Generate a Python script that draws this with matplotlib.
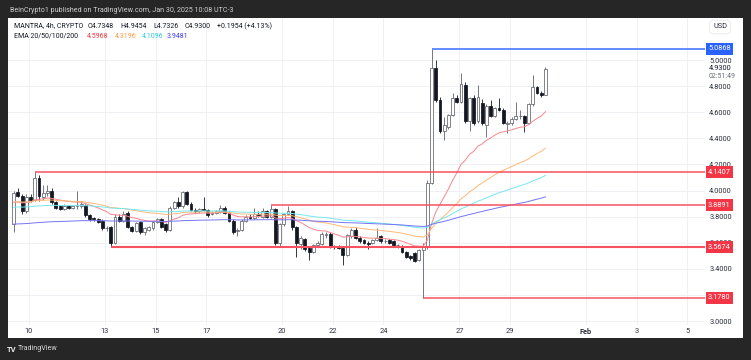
import matplotlib
matplotlib.use("Agg")
import matplotlib.pyplot as plt
import matplotlib.transforms as mtransforms
from matplotlib.patches import Rectangle
import numpy as np

plt.rcParams['font.family'] = ['Roboto', 'DejaVu Sans']

# ---------------- data (4h candles, MANTRA) ----------------
opens = [3.74, 3.99, 3.96, 3.84, 3.95, 3.93, 4.10, 3.95, 3.98, 4.00,
         3.91, 3.88, 3.86, 3.88, 3.87, 3.88, 3.88, 3.89, 3.81, 3.79,
         3.78, 3.77, 3.71, 3.72, 3.60, 3.80, 3.77, 3.83, 3.72, 3.69,
         3.76, 3.68, 3.70, 3.71, 3.76, 3.78, 3.74, 3.70, 3.87, 3.91,
         3.88, 3.99, 3.90, 3.85, 3.84, 3.86, 3.85, 3.82, 3.83, 3.84,
         3.87, 3.83, 3.77, 3.69, 3.70, 3.77, 3.80, 3.79, 3.82, 3.80,
         3.84, 3.80, 3.86, 3.60, 3.74, 3.82, 3.84, 3.72, 3.59, 3.63,
         3.56, 3.53, 3.58, 3.59, 3.66, 3.67, 3.57, 3.565, 3.56, 3.51,
         3.65, 3.70, 3.64, 3.62, 3.60, 3.60, 3.62, 3.65, 3.61, 3.62,
         3.61, 3.58, 3.575, 3.53, 3.50, 3.52, 3.47, 3.545, 3.567, 4.06,
         4.94, 4.69, 4.46, 4.49, 4.58, 4.71, 4.68, 4.81, 4.53, 4.71,
         4.53, 4.67, 4.50, 4.65, 4.57, 4.63, 4.62, 4.51, 4.52, 4.55,
         4.57, 4.57, 4.52, 4.66, 4.79, 4.75, 4.7348]
highs = [4.00, 4.02, 3.97, 3.97, 3.97, 4.1407, 4.12, 4.04, 4.04, 4.02,
         3.92, 3.89, 3.90, 3.89, 3.89, 4.00, 3.92, 3.90, 3.82, 3.80,
         3.79, 3.78, 3.73, 3.73, 3.82, 3.82, 3.84, 3.84, 3.73, 3.76,
         3.77, 3.72, 3.73, 3.77, 3.79, 3.79, 3.75, 3.88, 3.92, 3.95,
         4.00, 4.00, 3.91, 3.87, 3.87, 3.95, 3.86, 3.84, 3.85, 3.89,
         3.88, 3.84, 3.78, 3.71, 3.78, 3.81, 3.82, 3.87, 3.84, 3.87,
         3.85, 3.8891, 3.87, 3.75, 3.83, 3.88, 3.85, 3.73, 3.65, 3.64,
         3.57, 3.59, 3.61, 3.685, 3.68, 3.68, 3.58, 3.58, 3.57, 3.67,
         3.71, 3.72, 3.65, 3.63, 3.61, 3.63, 3.71, 3.66, 3.63, 3.63,
         3.62, 3.59, 3.58, 3.54, 3.51, 3.53, 3.55, 3.60, 4.08, 5.0868,
         5.00, 4.72, 4.56, 4.59, 4.75, 4.73, 4.90, 4.83, 4.72, 4.73,
         4.81, 4.70, 4.66, 4.69, 4.64, 4.71, 4.63, 4.53, 4.56, 4.68,
         4.62, 4.58, 4.67, 4.885, 4.80, 4.76, 4.9454]
lows = [3.68, 3.95, 3.82, 3.83, 3.91, 3.92, 3.92, 3.93, 3.96, 3.90,
        3.86, 3.85, 3.85, 3.86, 3.86, 3.86, 3.87, 3.80, 3.77, 3.77,
        3.75, 3.70, 3.69, 3.5674, 3.59, 3.76, 3.76, 3.71, 3.68, 3.68,
        3.67, 3.66, 3.69, 3.70, 3.75, 3.71, 3.68, 3.69, 3.86, 3.87,
        3.87, 3.89, 3.84, 3.83, 3.83, 3.84, 3.80, 3.81, 3.82, 3.83,
        3.82, 3.76, 3.67, 3.65, 3.69, 3.76, 3.78, 3.78, 3.80, 3.79,
        3.79, 3.79, 3.58, 3.57, 3.73, 3.81, 3.70, 3.49, 3.55, 3.54,
        3.47, 3.52, 3.57, 3.58, 3.64, 3.56, 3.55, 3.55, 3.43, 3.50,
        3.64, 3.63, 3.60, 3.59, 3.55, 3.59, 3.61, 3.60, 3.60, 3.59,
        3.57, 3.56, 3.52, 3.48, 3.47, 3.45, 3.46, 3.178, 3.55, 4.05,
        4.68, 4.44, 4.39, 4.47, 4.57, 4.67, 4.67, 4.52, 4.46, 4.50,
        4.52, 4.50, 4.41, 4.56, 4.56, 4.61, 4.51, 4.44, 4.50, 4.54,
        4.55, 4.45, 4.51, 4.65, 4.74, 4.72, 4.7326]
closes = [3.98, 3.96, 3.84, 3.95, 3.93, 4.10, 3.96, 3.98, 4.00, 3.91,
          3.87, 3.86, 3.88, 3.87, 3.88, 3.89, 3.90, 3.81, 3.78, 3.78,
          3.76, 3.71, 3.715, 3.60, 3.80, 3.77, 3.82, 3.72, 3.69, 3.75,
          3.68, 3.71, 3.72, 3.76, 3.78, 3.72, 3.70, 3.87, 3.91, 3.88,
          3.99, 3.90, 3.85, 3.84, 3.86, 3.85, 3.81, 3.83, 3.84, 3.87,
          3.83, 3.77, 3.68, 3.70, 3.77, 3.80, 3.79, 3.82, 3.81, 3.84,
          3.80, 3.86, 3.60, 3.74, 3.82, 3.84, 3.72, 3.60, 3.64, 3.55,
          3.53, 3.58, 3.60, 3.67, 3.67, 3.57, 3.565, 3.56, 3.51, 3.66,
          3.70, 3.64, 3.61, 3.60, 3.59, 3.625, 3.64, 3.61, 3.615, 3.60,
          3.58, 3.585, 3.53, 3.49, 3.48, 3.46, 3.545, 3.567, 4.06, 4.94,
          4.69, 4.46, 4.50, 4.58, 4.71, 4.68, 4.82, 4.53, 4.71, 4.515,
          4.72, 4.515, 4.65, 4.57, 4.63, 4.62, 4.52, 4.52, 4.55, 4.57,
          4.575, 4.52, 4.66, 4.79, 4.75, 4.735, 4.93]

# EMA 20/50/100/200 (seed = value at the left edge of the chart)
ema_periods = [20, 50, 100, 200]
ema_seeds = [3.90, 3.91, 3.87, 3.74]
ema_line_colors = ['#f7868c', '#ffb877', '#74e8f0', '#7474f5']
ema_text_colors = ['#f23645', '#ff9a3c', '#2fd0e0', '#3b3bf0']
ema_last = ['4.5968', '4.3196', '4.1096', '3.9481']

# horizontal levels: price, starting candle, colour
level_prices = [5.0868, 4.1407, 3.8891, 3.5674, 3.1780]
level_start = [99, 5, 61, 23, 97]
level_colors = ['#5682ff', '#f7525f', '#f7525f', '#f7525f', '#f7525f']
level_widths = [1.3, 1.1, 1.1, 1.5, 1.1]
level_box = ['#2962ff', '#f23645', '#f23645', '#f23645', '#f23645']

# date axis
date_days = [10, 13, 15, 17, 20, 22, 24, 27, 29, 32, 34, 36]
date_labels = ['10', '13', '15', '17', '20', '22', '24', '27', '29', 'Feb', '3', '5']
price_ticks = [3.0, 3.2, 3.4, 3.6, 3.8, 4.0, 4.2, 4.4, 4.6, 4.8, 5.0]

# ---------------- figure ----------------
W, H = 751, 360
fig = plt.figure(figsize=(W / 100, H / 100), dpi=100)
fig.patch.set_facecolor('#262626')

def fx(px):
    return px / W

def fy(py):
    return 1 - py / H

# white panel (behind axes)
fig.patches.append(Rectangle((fx(8), fy(338)), fx(743) - fx(8), fy(18) - fy(338),
                             transform=fig.transFigure, facecolor='white',
                             edgecolor='none', zorder=-10))

ax = fig.add_axes([fx(8), fy(325), fx(705) - fx(8), fy(18) - fy(325)], zorder=2)
ax.patch.set_alpha(0)
ax.set_xlim(-1.35, 163.8)
ax.set_ylim(2.970, 5.322)
for s in ax.spines.values():
    s.set_visible(False)

# grid / ticks
ax.set_yticks(price_ticks)
ax.set_yticklabels(['%.4f' % p for p in price_ticks])
date_pos = [3.6 + 6 * (d - 10) for d in date_days]
ax.set_xticks(date_pos)
ax.set_xticklabels(date_labels)
for lab in ax.get_xticklabels():
    if lab.get_text() == 'Feb':
        lab.set_fontweight('bold')
ax.grid(True, color='#eef0f3', lw=0.7, zorder=0)
ax.set_axisbelow(True)
ax.yaxis.tick_right()
ax.tick_params(axis='y', length=0, pad=3, labelsize=5.3, labelcolor='#2a2e39')
ax.tick_params(axis='x', length=0, pad=2.5, labelsize=5.3, labelcolor='#2a2e39')

# candles
o = np.array(opens); h = np.array(highs); l = np.array(lows); c = np.array(closes)
x = np.arange(len(c))
up = c >= o
dn = ~up
up_col = '#5f626c'
dn_col = '#131722'
ax.vlines(x[up], l[up], h[up], color=up_col, lw=0.6, zorder=3)
ax.vlines(x[dn], l[dn], h[dn], color=dn_col, lw=0.6, zorder=3)
ax.bar(x[up], c[up] - o[up], bottom=o[up], width=0.68, facecolor='white',
       edgecolor=up_col, lw=0.55, zorder=4)
ax.bar(x[dn], c[dn] - o[dn], bottom=o[dn], width=0.68, facecolor=dn_col,
       edgecolor=dn_col, lw=0.55, zorder=4)

# EMAs
for period, seed, col in zip(ema_periods, ema_seeds, ema_line_colors):
    alpha = 2.0 / (period + 1)
    vals = []
    prev = seed
    for v in closes:
        prev = prev + alpha * (v - prev)
        vals.append(prev)
    ax.plot(x, vals, color=col, lw=0.7, zorder=5)

# levels
xr = ax.get_xlim()[1]
blend = mtransforms.blended_transform_factory(ax.transAxes, ax.transData)
for p, s, col, lw, bc in zip(level_prices, level_start, level_colors, level_widths, level_box):
    ax.hlines(p, s, xr, color=col, lw=lw, zorder=6)
    ax.text(1.0 + 3.0 / 697, p, '%.4f' % p, transform=blend, ha='left', va='center',
            fontsize=5.3, color='white', zorder=10, clip_on=False,
            bbox=dict(boxstyle='square,pad=0.32', facecolor=bc, edgecolor='none'))

# last price + countdown on scale
ax.text(1.0 + 4.0 / 697, 4.935, '4.9300', transform=blend, ha='left', va='center',
        fontsize=5.3, color='#131722', zorder=10, clip_on=False,
        bbox=dict(boxstyle='square,pad=0.1', facecolor='white', edgecolor='none'))
ax.text(1.0 + 4.0 / 697, 4.872, '02:51:49', transform=blend, ha='left', va='center',
        fontsize=5.0, color='#6a6d78', zorder=10, clip_on=False,
        bbox=dict(boxstyle='square,pad=0.1', facecolor='white', edgecolor='none'))

# USD
fig.text(fx(713), fy(27), 'USD', fontsize=5.3, color='#2a2e39', ha='left', va='center',
         bbox=dict(boxstyle='round,pad=0.45,rounding_size=0.4', facecolor='white',
                   edgecolor='#e6e8ee', lw=0.6))

# header texts
fig.text(fx(10), fy(11), 'BeinCrypto1 published on TradingView.com, Jan 30, 2025 10:08 UTC-3',
         fontsize=5.15, color='#cfcfcf', ha='left', va='center')
hdr1 = [(14, 'MANTRA, 4h, CRYPTO'), (88, 'O4.7348'), (120, 'H4.9454'),
        (153, 'L4.7326'), (185, 'C4.9300'), (217, '+0.1954 (+4.13%)')]
for px, t in hdr1:
    fig.text(fx(px), fy(26), t, fontsize=5.0, color='#131722', ha='left', va='center')
fig.text(fx(14), fy(36), 'EMA 20/50/100/200', fontsize=5.0, color='#131722',
         ha='left', va='center')
for px, t, col in zip([87, 115, 142, 167], ema_last, ema_text_colors):
    fig.text(fx(px), fy(36), t, fontsize=5.0, color=col, ha='left', va='center')

# bottom bar
fig.text(fx(7), fy(349), 'TV', fontsize=5.5, fontweight='bold', color='#e8e8e8',
         ha='left', va='center')
fig.text(fx(18), fy(349), 'TradingView', fontsize=5.1, color='#d8d8d8',
         ha='left', va='center')

fig.savefig('out.png', dpi=100, facecolor=fig.get_facecolor())
